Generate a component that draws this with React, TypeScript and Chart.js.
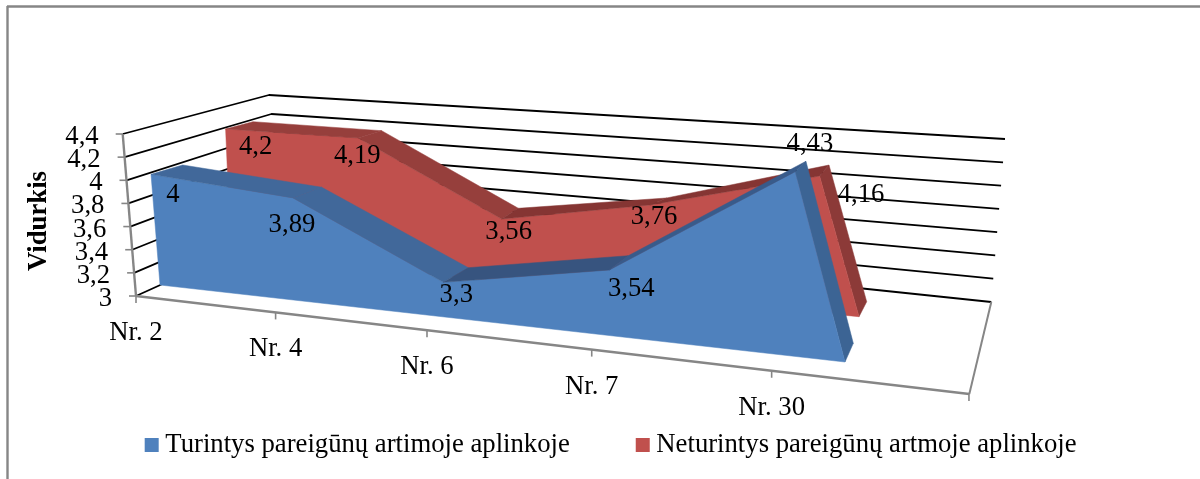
import React, { useEffect, useRef } from "react";
import { Chart, registerables } from "chart.js";

Chart.register(...registerables);

const categories = ["Nr. 2", "Nr. 4", "Nr. 6", "Nr. 7", "Nr. 30"];
const blueValues = [4, 3.89, 3.3, 3.54, 4.43];
const redValues = [4.2, 4.19, 3.56, 3.76, 4.16];
const blueName = "Turintys pareigūnų artimoje aplinkoje";
const redName = "Neturintys pareigūnų artmoje aplinkoje";
const yTitle = "Vidurkis";
const FONT = '"Liberation Serif"';
const FS = 26.7;

type P = [number, number];
interface Plane { base: P[]; up: P[] }
interface Look {
  front: Plane; back: Plane; face: string; tops: string[]; side: string; labelOffset: P[];
}

// the 3-D view: where each category stands on its plane, and the screen vector of one unit of value
const blueLook: Look = {
  front: {
    base: [[160, 285], [300, 300.7], [446, 317.1], [615, 336.1], [845, 362]],
    up: [[-9, -110.7], [-7.9, -115.5], [-9, -116], [-10.6, -122.4], [-35, -133]],
  },
  back: {
    base: [[191.7, 275.7], [328.7, 290], [471, 302.5], [634, 321.8], [853.3, 343.3]],
    up: [[-9, -110.7], [-7.9, -115.5], [-9, -116], [-10.6, -122.4], [-33.1, -127.3]],
  },
  face: "#4f81bd",
  tops: ["#41689a", "#41689a", "#37547f", "#385b8b"],
  side: "#3c6494",
  labelOffset: [[22, 21], [-1, 27], [13, 13], [22, 19], [15, -28]],
};
const redLook: Look = {
  front: {
    base: [[231, 255], [365.4, 268.2], [505, 281.9], [656, 296.7], [859, 316.7]],
    up: [[-4.5, -105], [-6, -109.4], [-6, -112.3], [-7.9, -120.7], [-34, -121.3]],
  },
  back: {
    base: [[258.4, 247.7], [388.8, 260.9], [521.7, 271.2], [672.7, 290.7], [866.7, 301.7]],
    up: [[-4.5, -105], [-6, -109.4], [-6, -112.3], [-7.9, -122], [-32.5, -117.8]],
  },
  face: "#c0504d",
  tops: ["#963f3c", "#963f3c", "#853533", "#853533"],
  side: "#8c3a38",
  labelOffset: [[30, 18], [-1, 18], [7, 13], [4, 12], [41.5, 19]],
};

// box corners of the 3-D frame
const frontLeft0: P = [136, 296];
const frontLeft1: P = [122.7, 134];
const backLeft0: P = [286, 228];
const backLeft1: P = [269, 95];
const backRight0: P = [991.3, 302];
const backRight1: P = [1005, 139];
const frontRight: P = [969.3, 394];
const GREY = "#868686";

const lerp = (a: P, b: P, t: number): P => [a[0] + (b[0] - a[0]) * t, a[1] + (b[1] - a[1]) * t];
const fmt = (v: number) => String(parseFloat(v.toFixed(2))).replace(".", ",");

function poly(ctx: CanvasRenderingContext2D, pts: P[], fill: string) {
  ctx.beginPath();
  pts.forEach((p, i) => (i ? ctx.lineTo(p[0], p[1]) : ctx.moveTo(p[0], p[1])));
  ctx.closePath();
  ctx.fillStyle = fill;
  ctx.fill();
  ctx.strokeStyle = fill;
  ctx.lineWidth = 0.5;
  ctx.stroke();
}
function seg(ctx: CanvasRenderingContext2D, a: P, b: P, color: string, w: number) {
  ctx.beginPath();
  ctx.moveTo(a[0], a[1]);
  ctx.lineTo(b[0], b[1]);
  ctx.strokeStyle = color;
  ctx.lineWidth = w;
  ctx.stroke();
}

const view3d = {
  id: "view3d",
  beforeDatasetsDraw(chart: any) {
    const { ctx, scales } = chart;
    const y = scales.y;
    const labels: string[] = scales.x.getLabels();
    const norm = (px: number) => (y.bottom - px) / (y.bottom - y.top);
    ctx.save();
    ctx.lineCap = "butt";

    // outer chart border (top and left)
    seg(ctx, [7, 6.5], [1200, 6.5], GREY, 2.4);
    seg(ctx, [7.5, 6], [7.5, 479], GREY, 2.4);

    // walls
    y.ticks.forEach((tick: any) => {
      const t = norm(y.getPixelForValue(tick.value));
      const a = lerp(frontLeft0, frontLeft1, t);
      const b = lerp(backLeft0, backLeft1, t);
      const c = lerp(backRight0, backRight1, t);
      ctx.lineJoin = "round";
      ctx.beginPath();
      ctx.moveTo(a[0], a[1]);
      ctx.lineTo(b[0], b[1]);
      ctx.lineTo(c[0], c[1]);
      ctx.strokeStyle = "#000";
      ctx.lineWidth = 1.8;
      ctx.stroke();
      seg(ctx, [a[0] - 7, a[1]], a, GREY, 1.6);
      ctx.fillStyle = "#000";
      ctx.font = `${FS}px ${FONT}`;
      ctx.textAlign = "right";
      ctx.textBaseline = "middle";
      ctx.fillText(tick.label, a[0] - 24, a[1] + 3);
    });
    seg(ctx, frontLeft0, frontLeft1, GREY, 2.4);
    seg(ctx, frontRight, backRight0, GREY, 2);

    // floor edge and category ticks
    seg(ctx, frontLeft0, frontRight, GREY, 2.4);
    const n = labels.length + 1;
    for (let i = 0; i < n; i++) {
      const u = i / (n - 1);
      const px = (644.4 * u + 136) / (1 - 0.1946 * u);
      const py = frontLeft0[1] + ((frontRight[1] - frontLeft0[1]) * (px - frontLeft0[0])) / (frontRight[0] - frontLeft0[0]);
      seg(ctx, [px, py], [px, py + 7], GREY, 1.6);
      if (labels[i]) {
        ctx.fillStyle = "#000";
        ctx.font = `${FS}px ${FONT}`;
        ctx.textAlign = "center";
        ctx.textBaseline = "middle";
        ctx.fillText(labels[i], px, py + 37);
      }
    }

    // axis title
    ctx.save();
    ctx.translate(39.5, 221);
    ctx.rotate(-Math.PI / 2);
    ctx.font = `bold ${FS}px ${FONT}`;
    ctx.textAlign = "center";
    ctx.textBaseline = "middle";
    ctx.fillStyle = "#000";
    ctx.fillText(chart.options.scales.y.title.text, 0, 0);
    ctx.restore();

    const texts: { s: string; p: P }[] = [];
    [1, 0].forEach((dsIndex) => {
      const look: Look = dsIndex === 0 ? blueLook : redLook;
      const meta = chart.getDatasetMeta(dsIndex);
      const values: number[] = chart.data.datasets[dsIndex].data;
      const units = meta.data.map((pt: any) => norm(pt.y) * (y.max - y.min));
      const at = (pl: Plane, i: number, h: number): P => [
        pl.base[i][0] + pl.up[i][0] * h,
        pl.base[i][1] + pl.up[i][1] * h,
      ];
      const front: P[] = units.map((h: number, i: number) => at(look.front, i, h));
      const back: P[] = units.map((h: number, i: number) => at(look.back, i, h));
      const last = units.length - 1;
      // right end
      poly(ctx, [front[last], back[last], look.back.base[last], look.front.base[last]], look.side);
      // front face
      poly(ctx, [look.front.base[0], ...front, look.front.base[last]], look.face);
      // top surfaces
      for (let i = 0; i < last; i++) {
        poly(ctx, [front[i], back[i], back[i + 1], front[i + 1]], look.tops[i]);
      }
      values.forEach((v, i) => {
        texts.push({ s: fmt(v), p: [front[i][0] + look.labelOffset[i][0], front[i][1] + look.labelOffset[i][1]] });
      });
    });
    ctx.fillStyle = "#000";
    ctx.font = `${FS}px ${FONT}`;
    ctx.textAlign = "center";
    ctx.textBaseline = "middle";
    texts.forEach((t) => ctx.fillText(t.s, t.p[0], t.p[1]));
    ctx.restore();
  },
};

export default function App() {
  const ref = useRef<HTMLCanvasElement>(null);
  useEffect(() => {
    const chart = new Chart(ref.current as HTMLCanvasElement, {
      type: "line",
      data: {
        labels: categories,
        datasets: [
          { label: blueName, data: blueValues, backgroundColor: blueLook.face, borderColor: blueLook.face, showLine: false, pointRadius: 0 },
          { label: redName, data: redValues, backgroundColor: redLook.face, borderColor: redLook.face, showLine: false, pointRadius: 0 },
        ],
      },
      options: {
        responsive: false,
        animation: false,
        devicePixelRatio: 1,
        layout: { padding: { left: 28, bottom: 10.65 } },
        scales: {
          x: { display: false },
          y: {
            display: false,
            min: 3,
            max: 4.4,
            title: { display: true, text: yTitle },
            ticks: { stepSize: 0.2, callback: (v: any) => String(parseFloat(Number(v).toFixed(1))).replace(".", ",") },
          },
        },
        plugins: {
          tooltip: { enabled: false },
          legend: {
            position: "bottom",
            labels: {
              boxWidth: 0.5,
              boxHeight: 0.5,
              padding: 72.75,
              color: "#000",
              font: { family: FONT, size: FS },
              generateLabels: (c: any) =>
                c.data.datasets.map((d: any, i: number) => ({
                  text: d.label,
                  fillStyle: d.backgroundColor,
                  strokeStyle: d.backgroundColor,
                  lineWidth: 13.5,
                  datasetIndex: i,
                })),
            },
          },
        },
      },
      plugins: [view3d],
    } as any);
    return () => chart.destroy();
  }, []);
  return (
    <div style={{ position: "absolute", left: 0, top: 0, width: 1200, height: 479, background: "#fff" }}>
      <canvas ref={ref} width={1200} height={479} style={{ display: "block" }} />
    </div>
  );
}
